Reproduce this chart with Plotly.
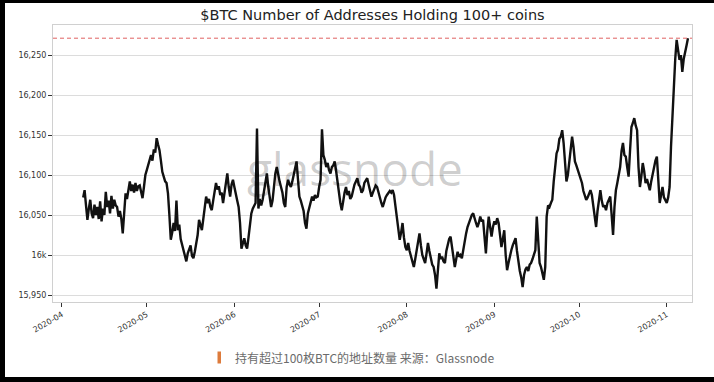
import plotly.graph_objects as go
import pandas as pd

# ---------------- data ----------------
START = "2020-04-08 12:00"
STEP = "12h"
holders = [
    16072, 16081, 16062, 16044, 16058, 16069, 16052, 16046, 16063, 16050,
    16060, 16045, 16067, 16042, 16058, 16050, 16079, 16060, 16068, 16052,
    16074, 16058, 16069, 16062, 16060, 16048, 16055, 16045, 16027, 16060,
    16077, 16070, 16082, 16092, 16080, 16088, 16078, 16090, 16080, 16086,
    16087, 16078, 16071, 16085, 16100, 16106, 16112, 16120, 16125, 16118,
    16132, 16128, 16146, 16138, 16131, 16118, 16104, 16098, 16092, 16090,
    16077, 16050, 16019, 16028, 16040, 16030, 16068, 16031, 16038, 16020,
    16012, 16005, 15998, 15992, 16002, 16008, 16012, 15999, 15996, 16004,
    16015, 16025, 16044, 16038, 16031, 16045, 16060, 16073, 16065, 16070,
    16060, 16056, 16068, 16078, 16090, 16082, 16086, 16075, 16078, 16065,
    16080, 16095, 16102, 16085, 16073, 16088, 16094, 16085, 16078, 16068,
    16060, 16040, 16008, 16015, 16021, 16012, 16008, 16022, 16035, 16052,
    16058, 16062, 16065, 16158, 16058, 16070, 16062, 16069, 16080, 16090,
    16102, 16085, 16070, 16060, 16068, 16090, 16102, 16110, 16098, 16092,
    16085, 16078, 16065, 16060, 16085, 16094, 16088, 16085, 16092, 16100,
    16110, 16117, 16095, 16073, 16068, 16060, 16055, 16040, 16033, 16052,
    16060, 16066, 16073, 16068, 16075, 16072, 16073, 16085, 16094, 16157,
    16125, 16119, 16110, 16115, 16106, 16102, 16110, 16112, 16117, 16105,
    16090, 16075, 16065, 16056, 16068, 16078, 16085, 16075, 16080, 16070,
    16073, 16082, 16088, 16092, 16096, 16088, 16085, 16078, 16081, 16090,
    16094, 16096, 16088, 16080, 16073, 16078, 16082, 16087, 16085, 16078,
    16070, 16065, 16060, 16068, 16072, 16075, 16077, 16080, 16078, 16081,
    16075, 16060, 16048, 16030, 16019, 16028, 16040, 16022, 16010, 16006,
    16015, 16005, 15998, 15992, 15985, 15995, 16005, 16015, 16027, 16012,
    16000, 15995, 15990, 16002, 16015, 16005, 15995, 15988, 15985, 15975,
    15958, 15985, 16002, 15995, 15998, 15992, 15990, 16005, 16015, 16020,
    16023, 16010, 15998, 15985, 15995, 16004, 15998, 16000, 15996, 16008,
    16018, 16027, 16035, 16040, 16046, 16050, 16052, 16045, 16040, 16035,
    16040, 16048, 16042, 16044, 16020, 16002, 16030, 16048, 16035, 16023,
    16035, 16042, 16038, 16046, 16040, 16025, 16010, 16020, 16031, 16000,
    15981, 15990, 16000, 16006, 16012, 16018, 16021, 16005, 15990, 15980,
    15972, 15960, 15975, 15982, 15985, 15980, 15988, 15990, 15995, 16000,
    16006, 16048, 16020, 15990, 15985, 15975, 15969, 15985, 16048, 16062,
    16060, 16065, 16069, 16092, 16110, 16127, 16132, 16145, 16148, 16156,
    16140, 16115, 16092, 16100, 16115, 16125, 16148, 16135, 16117, 16112,
    16106, 16100, 16095, 16090, 16080, 16075, 16069, 16072, 16078, 16081,
    16075, 16060, 16048, 16035, 16055, 16070, 16081, 16068, 16060, 16062,
    16056, 16065, 16070, 16073, 16050, 16025, 16060, 16081, 16090, 16098,
    16110, 16130, 16140, 16125, 16123, 16110, 16098, 16130, 16160, 16165,
    16171, 16162, 16156, 16110, 16085, 16098, 16115, 16105, 16090, 16095,
    16088, 16081, 16092, 16102, 16110, 16118, 16123, 16100, 16065, 16075,
    16085, 16072, 16068, 16065, 16072, 16085, 16135, 16175, 16210, 16245,
    16269, 16258, 16244, 16250, 16229, 16245, 16256, 16262, 16271,
]

y_tickvals = [15950, 16000, 16050, 16100, 16150, 16200, 16250]
y_ticktext = ["15,950", "16k", "16,050", "16,100", "16,150", "16,200", "16,250"]
x_tickvals = ["2020-04-01", "2020-05-01", "2020-06-01", "2020-07-01",
              "2020-08-01", "2020-09-01", "2020-10-01", "2020-11-01"]
x_ticktext = ["2020-04", "2020-05", "2020-06", "2020-07",
              "2020-08", "2020-09", "2020-10", "2020-11"]

TITLE = "$BTC Number of Addresses Holding 100+ coins"
CAPTION = "持有超过100枚BTC的地址数量 来源：Glassnode"
WATERMARK = "glassnode"

# ---------------- figure ----------------
dates = pd.date_range(START, periods=len(holders), freq=STEP)
ath = max(holders)

W, H = 714, 382
ML, MR, MT, MB = 53, 22, 25, 80
PW, PH = W - ML - MR, H - MT - MB


def px_x(px):
    return (px - ML) / PW


def px_y(py):
    return (H - MB - py) / PH


fig = go.Figure()
fig.add_trace(go.Scatter(
    x=dates, y=holders, mode="lines",
    line=dict(color="#111111", width=2.4),
    hoverinfo="skip", showlegend=False,
))

tick_font = dict(family="DejaVu Sans", size=8, color="#333333")

fig.update_layout(
    width=W, height=H, autosize=False,
    margin=dict(l=ML, r=MR, t=MT, b=MB, pad=0),
    paper_bgcolor="#ffffff",
    plot_bgcolor="#ffffff",
    showlegend=False,
    title=dict(
        text=TITLE, x=0.5, xref="paper", xanchor="center",
        y=1 - 15 / H, yref="container", yanchor="middle",
        font=dict(family="DejaVu Sans", size=14.5, color="#222222"),
    ),
    xaxis=dict(
        type="date",
        range=["2020-03-28 19:40", "2020-11-09 22:20"],
        tickmode="array", tickvals=x_tickvals, ticktext=x_ticktext,
        tickangle=-30, ticks="outside", ticklen=4, tickwidth=1,
        tickcolor="#333333", tickfont=tick_font,
        showgrid=False, zeroline=False,
        showline=True, linecolor="#d0d0d0", linewidth=1, mirror=True,
    ),
    yaxis=dict(
        range=[15941.25, 16287.5],
        tickmode="array", tickvals=y_tickvals, ticktext=y_ticktext,
        ticks="outside", ticklen=4, tickwidth=1, tickcolor="#333333",
        tickfont=tick_font,
        showgrid=True, gridcolor="#dcdcdc", gridwidth=1, zeroline=False,
        showline=True, linecolor="#d0d0d0", linewidth=1, mirror=True,
    ),
)

# black screenshot border: left, top and bottom edges
for x0, x1, y0, y1 in [(-5, 5, -5, H + 5), (-5, W + 5, -5, 3), (-5, W + 5, 377, H + 5)]:
    fig.add_shape(type="rect", xref="paper", yref="paper", layer="below",
                  x0=px_x(x0), x1=px_x(x1), y0=px_y(y1), y1=px_y(y0),
                  fillcolor="#000000", line=dict(width=0))

# all-time-high dashed line
fig.add_shape(type="line", xref="paper", x0=0, x1=1, yref="y", y0=ath, y1=ath,
              line=dict(color="#e06262", width=1, dash="4px,3px"))

# caption marker bar
fig.add_shape(type="rect", xref="paper", yref="paper",
              x0=px_x(217.5), x1=px_x(221), y0=px_y(363.5), y1=px_y(351.5),
              fillcolor="#dd7b3c", line=dict(width=0))

# watermark
fig.add_annotation(text=WATERMARK, xref="paper", yref="paper",
                   x=px_x(354.5), y=px_y(168), xanchor="center", yanchor="middle",
                   showarrow=False,
                   font=dict(family="Open Sans", size=46, color="rgba(0,0,0,0.2)"))

# caption
fig.add_annotation(text=CAPTION, xref="paper", yref="paper",
                   x=px_x(233), y=px_y(357.5), xanchor="left", yanchor="middle",
                   showarrow=False,
                   font=dict(family="Noto Sans CJK SC", size=12, color="#6b6b6b"))

fig.write_html(
    "out.html",
    config={"displayModeBar": False},
    post_script="document.body.style.margin='0';document.body.style.overflow='hidden';",
)
